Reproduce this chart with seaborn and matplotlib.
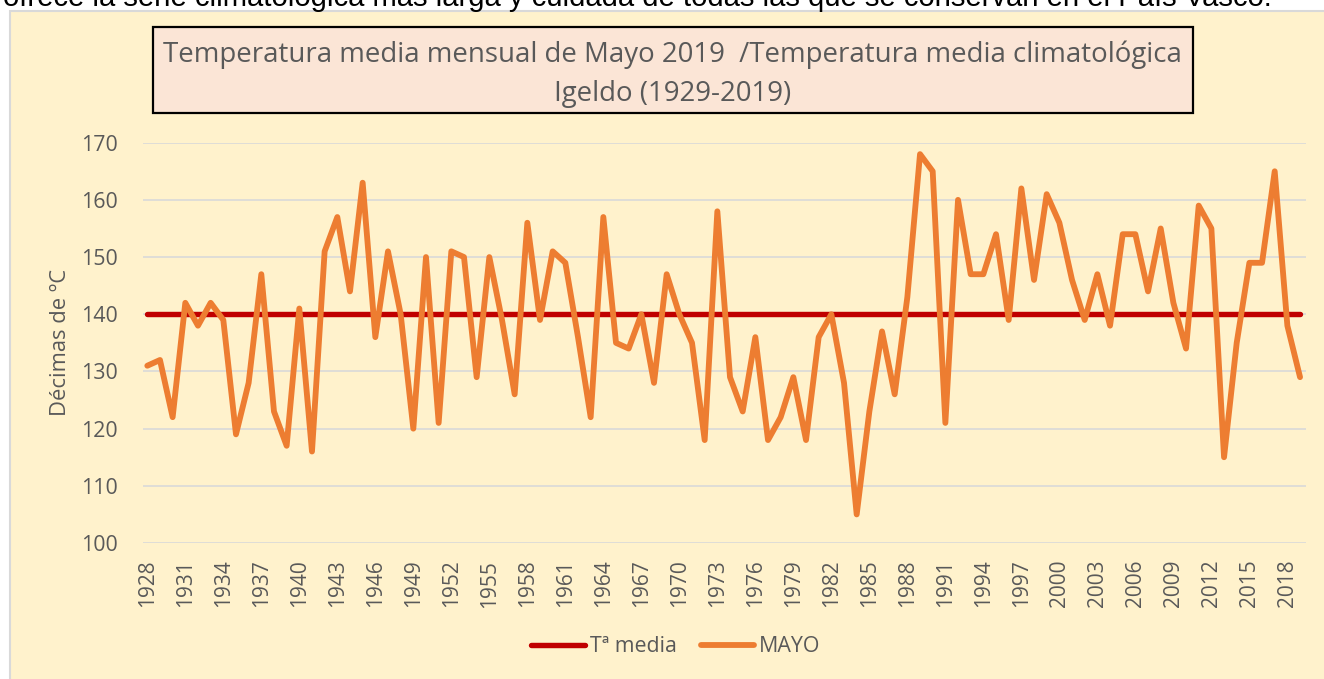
import matplotlib
matplotlib.use("Agg")
import matplotlib.pyplot as plt
from matplotlib.patches import Rectangle
import numpy as np
import pandas as pd
import seaborn as sns

# ---------------- data ----------------
years = list(range(1928, 2020))
mayo = [131, 132, 122, 142, 138, 142, 139, 119, 128, 147,
        123, 117, 141, 116, 151, 157, 144, 163, 136, 151,
        140, 120, 150, 121, 151, 150, 129, 150, 139, 126,
        156, 139, 151, 149, 136, 122, 157, 135, 134, 140,
        128, 147, 140, 135, 118, 158, 129, 123, 136, 118,
        122, 129, 118, 136, 140, 128, 105, 123, 137, 126,
        143, 168, 165, 121, 160, 147, 147, 154, 139, 162,
        146, 161, 156, 146, 139, 147, 138, 154, 154, 144,
        155, 142, 134, 159, 155, 115, 135, 149, 149, 165,
        138, 129]
t_media_value = 140
t_media = [t_media_value] * len(years)
yticks = [100, 110, 120, 130, 140, 150, 160, 170]
xtick_years = list(range(1928, 2020, 3))

title_line1 = "Temperatura media mensual de Mayo 2019  /Temperatura media climatológica"
title_line2 = "Igeldo (1929-2019)"
top_text = "ofrece la serie climatológica más larga y cuidada de todas las que se conservan en el País Vasco."

df = pd.DataFrame({"idx": np.arange(len(years)), "year": years,
                   "MAYO": mayo, "Tª media": t_media})

# ---------------- style ----------------
W, H = 1324, 679
sns.set_style("white")
plt.rcParams["font.family"] = ["Open Sans", "DejaVu Sans"]
GREY = "#595959"

fig = plt.figure(figsize=(W / 100, H / 100), dpi=100, facecolor="white")

# chart area background
fig.add_artist(Rectangle((10 / W, -0.02), 1.0, (H - 11) / H + 0.02,
                         transform=fig.transFigure, facecolor="#FFF2CC",
                         edgecolor="#D9D9D9", lw=1.5, zorder=-10))

# axes placement (pixels -> figure fraction)
left, right = 143, 1306
top, bottom = 142.7, 543
ax = fig.add_axes([left / W, 1 - bottom / H, (right - left) / W, (bottom - top) / H])
ax.set_facecolor("none")

sns.lineplot(data=df, x="idx", y="Tª media", ax=ax, color="#C00000", lw=3.9,
             label="Tª media", solid_capstyle="round", solid_joinstyle="round")
sns.lineplot(data=df, x="idx", y="MAYO", ax=ax, color="#ED7D31", lw=4.2,
             label="MAYO", solid_capstyle="round", solid_joinstyle="round")

ax.set_ylim(100, 170)
ax.set_xlim(-0.34, 91.47)
ax.set_yticks(yticks)
ax.set_yticklabels([str(v) for v in yticks])
xt = [years.index(y) for y in xtick_years]
ax.set_xticks(xt)
ax.set_xticklabels([str(y) for y in xtick_years], rotation=90)
ax.tick_params(axis="y", length=0, pad=18, labelsize=15.4, labelcolor=GREY)
ax.tick_params(axis="x", length=0, pad=12, labelsize=15, labelcolor=GREY)
ax.grid(axis="y", color="#D9D9D9", lw=1.2)
ax.grid(axis="x", visible=False)
for s in ax.spines.values():
    s.set_visible(False)
ax.set_xlabel("")
ax.set_ylabel("")

fig.text(61 / W, 1 - 342 / H, "Décimas de ºC", rotation=90, ha="center",
         va="center", fontsize=15.8, color=GREY)

# legend
ax.get_legend().remove()
handles, labels = ax.get_legend_handles_labels()
fig.legend(handles, labels, loc="center", bbox_to_anchor=(676 / W, 1 - 647 / H),
           ncol=2, frameon=False, fontsize=15.4, labelcolor=GREY,
           handlelength=2.5, handletextpad=0.25, columnspacing=1.1)

# title box
bx0, bx1, by0, by1 = 152.7, 1193, 26.7, 113.3
fig.add_artist(Rectangle((bx0 / W, 1 - by1 / H), (bx1 - bx0) / W, (by1 - by0) / H,
                         transform=fig.transFigure, facecolor="#FBE5D6",
                         edgecolor="black", lw=1.6, zorder=2))
t1 = fig.text((bx0 + bx1) / 2 / W, 1 - 62.3 / H, title_line1, ha="center",
              va="baseline", fontsize=19, color=GREY, zorder=3)
t2 = fig.text((bx0 + bx1) / 2 / W, 1 - 100.5 / H, title_line2, ha="center",
              va="baseline", fontsize=19, color=GREY, zorder=3)

# top cut-off page text (cut at the top edge as in the reference)
tt = fig.text(3 / W, 1 - 6 / H, top_text, ha="left", va="baseline",
              fontsize=19, color="black", family="Liberation Sans", zorder=5)

# fit text widths to measured extents
fig.canvas.draw()
r = fig.canvas.get_renderer()
w1 = t1.get_window_extent(r).width
fs = 19 * 1021 / w1
t1.set_fontsize(fs)
t2.set_fontsize(fs)
wt = tt.get_window_extent(r).width
tt.set_fontsize(19 * 1270 / wt)

fig.savefig("out.png", dpi=100, facecolor="white")
